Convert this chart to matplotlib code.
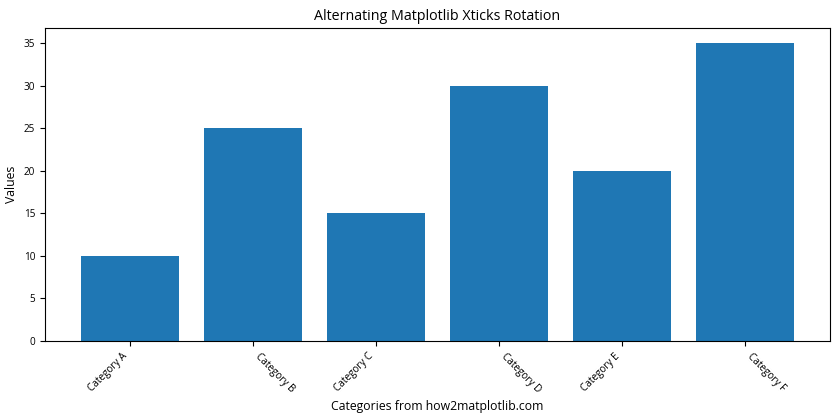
import matplotlib.pyplot as plt

# datos
categorias = ['Category A', 'Category B', 'Category C', 'Category D', 'Category E', 'Category F']
valores = [10, 25, 15, 30, 20, 35]

plt.rcParams['font.family'] = ['Open Sans', 'DejaVu Sans']

fig = plt.figure(figsize=(8.4, 4.2), dpi=100)
ax = fig.add_axes([0.0536, 0.188, 0.934, 0.745])

ax.bar(categorias, valores, color='#1f77b4')

ax.set_title('Alternating Matplotlib Xticks Rotation', fontsize=10.3)
ax.set_xlabel('Categories from how2matplotlib.com', fontsize=8.8)
ax.set_ylabel('Values', fontsize=8.8)
ax.tick_params(labelsize=7.2)

# rotacion alternada de las etiquetas
for i, etiqueta in enumerate(ax.get_xticklabels()):
    if i % 2 == 0:
        etiqueta.set_rotation(45)
        etiqueta.set_ha('right')
    else:
        etiqueta.set_rotation(-45)
        etiqueta.set_ha('left')

fig.savefig('out.png', dpi=100)
